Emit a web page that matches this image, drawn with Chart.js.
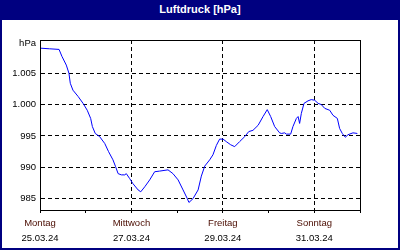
<!DOCTYPE html>
<html>
<head>
<meta charset="utf-8">
<script src="https://cdn.jsdelivr.net/npm/chart.js@4"></script>
<style>
  html, body { margin: 0; padding: 0; background: #fff; }
  #wrap { position: relative; width: 400px; height: 250px; overflow: hidden; }
  #chart { position: absolute; left: 0; top: 0; }
  #title {
    position: absolute; left: 0; top: 0; width: 400px; height: 20px;
    background: #000080; color: #fff; text-align: center;
    font: bold 11px 'Liberation Sans', Arial, sans-serif; line-height: 19px;
  }
  #frame {
    position: absolute; left: 0; top: 0; width: 400px; height: 250px;
    box-sizing: border-box; border: 2px solid #000080; pointer-events: none;
  }
</style>
</head>
<body>
<div id="wrap">
  <canvas id="chart" width="400" height="250"></canvas>
  <div id="title">Luftdruck [hPa]</div>
  <div id="frame"></div>
</div>
<script>
// Hours since Monday 25.03.24 00:00
const hours = [
  0, 5, 10, 11.5, 13.8, 15.2, 15.9, 17.3, 20, 22.6,
  24.8, 26.6, 27.5, 29, 31.3, 34, 36, 38.3, 39.7, 41,
  42.7, 44.5, 45.3, 47.1, 48.8, 51.5, 52.9, 55, 57.6, 60.2,
  62.8, 67.2, 69.8, 72.5, 75.1, 77.2, 78.2, 80.3, 83, 84.7,
  86.5, 89.1, 90.8, 92.6, 94.3, 96.1, 97.8, 100.1, 102.2, 104.8,
  107.5, 109.6, 111.8, 114.5, 117.1, 119.3, 121.1, 123.2, 125.8, 126.7,
  128.5, 129.3, 131.6, 132.8, 134.6, 135.5, 136.3, 137.2, 138.6, 140.7,
  142.4, 144.2, 146, 147.7, 149.5, 152.1, 153.8, 156.1, 157.3, 158.7,
  160.3, 161.7, 164.3, 166.6
];
// Air pressure in hPa
const pressure = [
  1009.0, 1008.9, 1008.8, 1007.7, 1006.3, 1005.0, 1003.4, 1002.3, 1001.3, 1000.2,
  999.1, 997.8, 996.5, 995.4, 994.9, 993.8, 992.5, 991.2, 990.1, 989.0,
  988.8, 988.8, 989.0, 988.2, 987.4, 986.4, 986.1, 986.9, 988.0, 989.3,
  989.4, 989.6, 989.0, 988.0, 986.4, 985.1, 984.4, 985.0, 986.4, 988.6,
  990.2, 991.2, 992.0, 993.5, 994.5, 994.5, 994.1, 993.6, 993.3, 994.1,
  994.9, 995.7, 995.9, 996.7, 998.1, 999.2, 998.1, 996.5, 995.5, 995.4,
  995.5, 995.3, 995.3, 996.5, 997.8, 998.1, 997.0, 998.6, 1000.2, 1000.6,
  1000.8, 1000.7, 1000.2, 1000.0, 999.4, 999.1, 998.3, 997.8, 996.2, 995.4,
  994.8, 995.2, 995.5, 995.4
];

const dayTicks = [0, 24, 48, 72, 96, 120, 144, 168];
const labelTicks = [0, 48, 96, 144];
const dayNames = ['Montag', 'Mittwoch', 'Freitag', 'Sonntag'];
const dayDates = ['25.03.24', '27.03.24', '29.03.24', '31.03.24'];
const yTicks = [985, 990, 995, 1000, 1005];
const yUnitTick = 1009.7;
const yUnit = 'hPa';

const FONT = "'Liberation Sans', Arial, sans-serif";

function fmtPressure(v) {
  if (v >= 1000) {
    return '1.' + String(Math.round(v - 1000)).padStart(3, '0');
  }
  return String(v);
}

// Solid frame round the plot area
const framePlugin = {
  id: 'frame',
  afterDraw(chart) {
    const { ctx, chartArea: a } = chart;
    ctx.save();
    ctx.strokeStyle = '#000';
    ctx.lineWidth = 1;
    ctx.strokeRect(Math.round(a.left) + 0.5, Math.round(a.top) + 0.5,
      Math.round(a.right - a.left), Math.round(a.bottom - a.top));
    ctx.restore();
  },
};

new Chart(document.getElementById('chart'), {
  type: 'line',
  data: {
    datasets: [
      {
        data: hours.map((h, i) => ({ x: h, y: pressure[i] })),
        borderColor: '#0000ff',
        borderWidth: 1,
        pointRadius: 0,
        tension: 0,
        fill: false,
      },
    ],
  },
  options: {
    responsive: false,
    animation: false,
    events: [],
    layout: { padding: { left: 0, right: 40, top: 40, bottom: 5 } },
    plugins: { legend: { display: false }, tooltip: { enabled: false } },
    scales: {
      x: {
        type: 'linear',
        min: 0,
        max: 168,
        weight: 0,
        afterBuildTicks: (s) => { s.ticks = dayTicks.map((v) => ({ value: v })); },
        afterFit: (s) => { s.height = 21; },
        grid: {
          color: (c) => (labelTicks.includes(c.tick.value) && c.tick.value > 0 ? '#000' : 'rgba(0,0,0,0)'),
          tickColor: '#000',
          tickLength: 3,
        },
        border: { color: '#000', dash: [4, 3] },
        ticks: {
          autoSkip: false,
          maxRotation: 0,
          padding: 5,
          color: '#4a0c00',
          font: { family: FONT, size: 9.5 },
          callback: (v) => { const i = labelTicks.indexOf(v); return i >= 0 ? dayNames[i] : ''; },
        },
      },
      x2: {
        type: 'linear',
        position: 'bottom',
        min: 0,
        max: 168,
        weight: 1,
        afterBuildTicks: (s) => { s.ticks = labelTicks.map((v) => ({ value: v })); },
        afterFit: (s) => { s.height = 14; },
        grid: { display: false, drawTicks: false },
        border: { display: false },
        ticks: {
          autoSkip: false,
          maxRotation: 0,
          padding: 2,
          color: '#000',
          font: { family: FONT, size: 9.5 },
          callback: (v) => { const i = labelTicks.indexOf(v); return i >= 0 ? dayDates[i] : ''; },
        },
      },
      y: {
        min: 983.2,
        max: 1010.3,
        afterBuildTicks: (s) => { s.ticks = yTicks.concat([yUnitTick]).map((v) => ({ value: v })); },
        afterFit: (s) => { s.width = 40; },
        grid: {
          drawTicks: false,
          color: (c) => (c.tick && c.tick.value === yUnitTick ? 'rgba(0,0,0,0)' : '#000'),
        },
        border: { color: '#000', dash: [4, 3] },
        ticks: {
          padding: 4,
          color: '#000',
          font: { family: FONT, size: 9.5 },
          callback: (v) => (v === yUnitTick ? yUnit : fmtPressure(v)),
        },
      },
    },
  },
  plugins: [framePlugin],
});
</script>
</body>
</html>
